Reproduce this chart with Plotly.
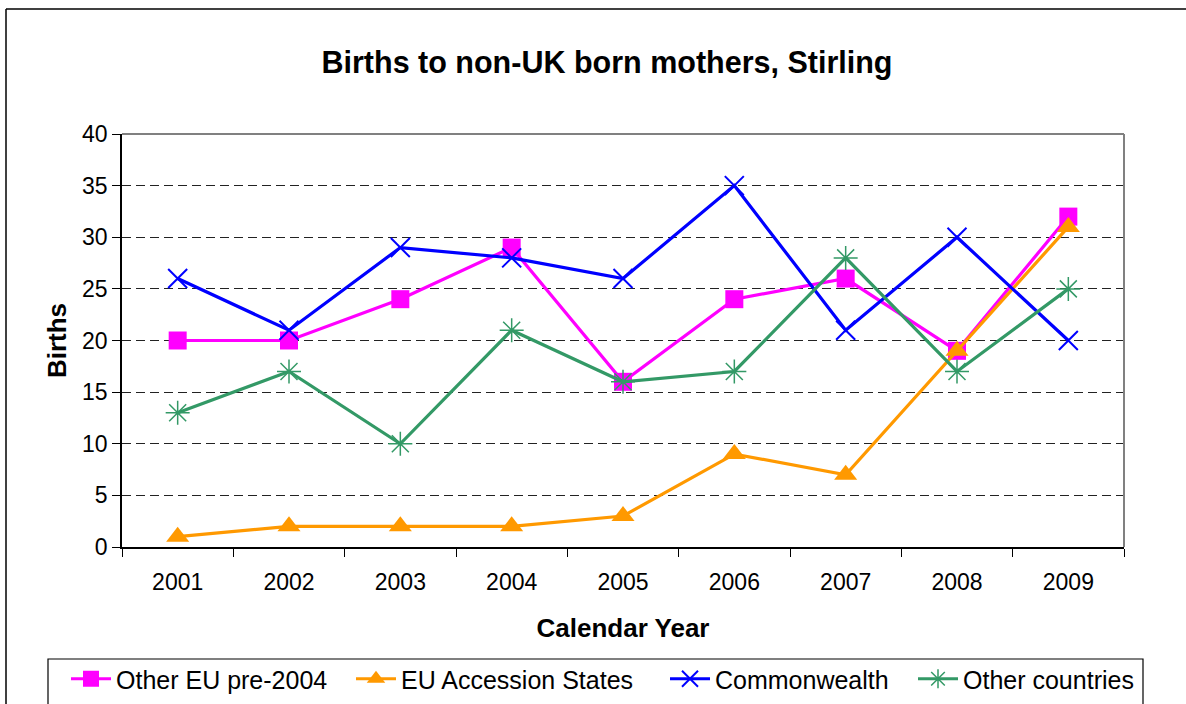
import plotly.graph_objects as go

years = ["2001", "2002", "2003", "2004", "2005", "2006", "2007", "2008", "2009"]
other_eu = [20, 20, 24, 29, 16, 24, 26, 19, 32]
eu_accession = [1, 2, 2, 2, 3, 9, 7, 19, 31]
commonwealth = [26, 21, 29, 28, 26, 35, 21, 30, 20]
other_countries = [13, 17, 10, 21, 16, 17, 28, 17, 25]

W, H = 1186, 704
L, R, T, B = 122, 1124, 134, 547
pw, ph = R - L, B - T

def px(x):
    return (x - L) / pw

def py(y):
    return (B - y) / ph

fig = go.Figure()
fig.add_trace(go.Scatter(x=years, y=other_eu, name="Other EU pre-2004", mode="lines+markers",
                         legend="legend",
                         line=dict(color="#FF00FF", width=3.2),
                         marker=dict(symbol="square", size=18, color="#FF00FF")))
fig.add_trace(go.Scatter(x=years, y=eu_accession, name="EU Accession States", mode="lines+markers",
                         legend="legend2",
                         line=dict(color="#FF9900", width=3.2),
                         marker=dict(symbol="triangle-up", size=20, color="#FF9900")))
fig.add_trace(go.Scatter(x=years, y=commonwealth, name="Commonwealth", mode="lines+markers",
                         legend="legend3",
                         line=dict(color="#0000FF", width=3.2),
                         marker=dict(symbol="x-thin-open", size=19, color="#0000FF",
                                     line=dict(color="#0000FF", width=2))))
fig.add_trace(go.Scatter(x=years, y=other_countries, name="Other countries", mode="lines+markers",
                         legend="legend4",
                         line=dict(color="#339966", width=3.2),
                         marker=dict(symbol="asterisk-open", size=20, color="#339966",
                                     line=dict(color="#339966", width=1.5))))

shapes = [
    dict(type="line", xref="paper", yref="paper", x0=0, x1=1, y0=1, y1=1,
         line=dict(color="#808080", width=2)),
    dict(type="line", xref="paper", yref="paper", x0=1, x1=1, y0=0, y1=1,
         line=dict(color="#808080", width=2)),
    dict(type="line", xref="paper", yref="paper", x0=px(6), x1=px(6), y0=py(9), y1=py(720),
         line=dict(color="black", width=1.5)),
    dict(type="line", xref="paper", yref="paper", x0=px(6), x1=px(1200), y0=py(9), y1=py(9),
         line=dict(color="black", width=1.5)),
    # legend box
    dict(type="rect", xref="paper", yref="paper", x0=px(48), x1=px(1143), y0=py(659), y1=py(712),
         line=dict(color="black", width=1.2), fillcolor="rgba(0,0,0,0)", layer="below"),
]

def leg(x_left):
    return dict(orientation="h", x=px(x_left), xanchor="left", y=py(656), yanchor="top",
                bgcolor="rgba(0,0,0,0)", borderwidth=0, font=dict(size=25),
                itemwidth=40)

fig.update_layout(
    width=W, height=H,
    margin=dict(l=L, r=W - R, t=T, b=H - B, autoexpand=False),
    paper_bgcolor="white", plot_bgcolor="white",
    font=dict(family="Liberation Sans, Arial, sans-serif", size=23, color="black"),
    title=dict(text="<b>Births to non-UK born mothers, Stirling</b>",
               font=dict(size=30.5, color="black"),
               x=px(607), xanchor="center", xref="paper",
               y=1 - 62 / H, yanchor="middle"),
    xaxis=dict(type="category", range=[-0.5, 8.5], showline=True, linecolor="black", linewidth=1.5,
               ticks="outside", tickson="boundaries", ticklen=8, tickcolor="black",
               showgrid=False, zeroline=False, tickfont=dict(size=23), ticklabelstandoff=14,
               title=dict(text="<b>Calendar Year</b>", font=dict(size=26), standoff=24)),
    yaxis=dict(range=[0, 40], dtick=5, showline=True, linecolor="black", linewidth=1.5,
               ticks="outside", ticklen=8, tickcolor="black", tickfont=dict(size=23),
               showgrid=True, gridcolor="#222222", griddash="9px,5px", gridwidth=1,
               zeroline=False,
               title=dict(text="<b>Births</b>", font=dict(size=26), standoff=8)),
    legend=leg(66),
    legend2=leg(351),
    legend3=leg(665),
    legend4=leg(913),
    shapes=shapes,
    showlegend=True,
)

fig.write_html("out.html", config={"displayModeBar": False},
               post_script="document.body.style.margin='0';document.body.style.overflow='hidden';")
